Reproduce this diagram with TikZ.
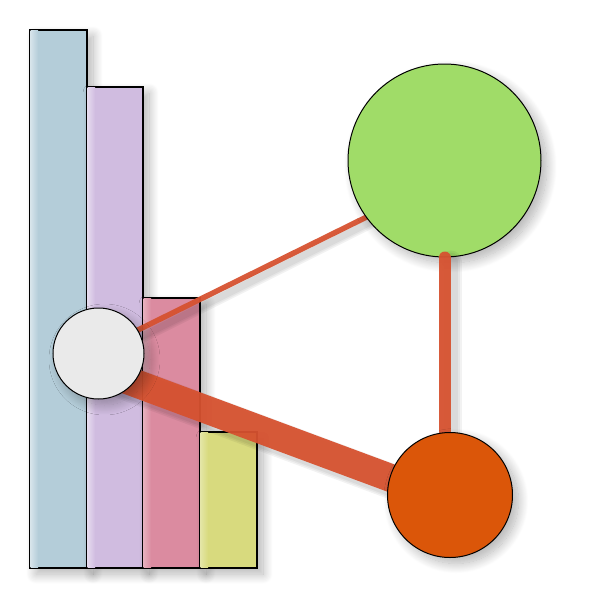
\documentclass[tikz,border=0pt]{standalone}
\usetikzlibrary{shadows.blur}
\definecolor{cblue}{HTML}{B4CDD9}
\definecolor{cpurple}{HTML}{D0BCE0}
\definecolor{cpink}{HTML}{DB8BA0}
\definecolor{cyellow}{HTML}{D8DA7E}
\definecolor{cgreen}{HTML}{A0DC68}
\definecolor{corange}{HTML}{DB5609}
\definecolor{cwhite}{HTML}{EAEAEA}
\definecolor{cedge}{HTML}{D65230}
\tikzset{
  bar/.style={draw=black, line width=0.6pt, blur shadow={shadow xshift=3pt, shadow yshift=-3pt, shadow blur radius=5pt, shadow blur steps=20, shadow opacity=30}},
  ball/.style={circle, draw=black, line width=0.5pt, inner sep=0pt, blur shadow={shadow xshift=3pt, shadow yshift=-3pt, shadow blur radius=5pt, shadow blur steps=20, shadow opacity=30}},
  spot/.style={circle, inner sep=0pt},
  link/.style={draw=cedge, line cap=round, opacity=0.95},
  linkshadow/.style={draw=black, opacity=0.05, line cap=round}
}
\begin{document}
\begin{tikzpicture}[x=0.5pt,y=-0.5pt]
\useasboundingbox (0,0) rectangle (600,600);
% bars
\draw[bar, fill=cblue] (30,30) rectangle (87,568);
\draw[bar, fill=cpurple] (87,87) rectangle (143,568);
\draw[bar, fill=cpink] (143,298) rectangle (200,568);
\draw[bar, fill=cyellow] (200,432) rectangle (257,568);
\shade[left color=cblue!55!white, right color=cblue] (30.6,30.6) rectangle (38,567.4);
\shade[left color=cpurple!55!white, right color=cpurple] (87.6,87.6) rectangle (95,567.4);
\shade[left color=cpink!70!white, right color=cpink] (143.6,298.6) rectangle (151,567.4);
\shade[left color=cyellow!70!white, right color=cyellow] (200.6,432.6) rectangle (208,567.4);
% node positions
\node[spot, minimum size=45.5pt] (w) at (98.5,353.5) {};
\node[spot, minimum size=96.5pt] (g) at (444.5,160.5) {};
\node[spot, minimum size=62.5pt] (o) at (450,495) {};
% links under the balls
\foreach \lw in {3.5,5,6.5}{
  \draw[linkshadow, line width=\lw pt] ([shift={(2.5pt,-1pt)}]w.center) -- ([shift={(2.5pt,-11pt)}]g.center);
  \draw[linkshadow, line width=\lw pt+11pt] ([shift={(2.5pt,-10.5pt)}]w.center) -- ([shift={(2.5pt,-5pt)}]o.center);
}
\draw[link, line width=2.7pt] ([yshift=2pt]w.center) -- ([yshift=-9pt]g.center);
\draw[link, line width=14pt] ([yshift=-8pt]w.center) -- ([yshift=-2.5pt]o.center);
% balls
\node[ball, fill=cgreen, minimum size=96.5pt] (gb) at (g) {};
\foreach \lw in {7,9,11}{
  \draw[linkshadow, line width=\lw pt] ([shift={(3pt,-2pt)}]gb.south) -- ([xshift=3pt]gb.south |- o.center);
}
\draw[link, line width=6pt] (gb.south) -- (gb.south |- o.center);
\node[ball, fill=corange, minimum size=62.5pt] (ob) at (o) {};
\node[ball, fill=cwhite, minimum size=45.5pt] (wb) at (w) {};
\end{tikzpicture}
\end{document}
